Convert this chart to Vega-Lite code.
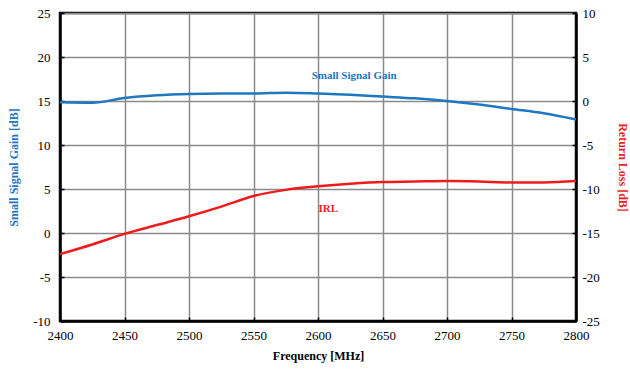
{
  "$schema": "https://vega.github.io/schema/vega-lite/v6.json",
  "width": 516,
  "height": 308,
  "autosize": {"type": "none"},
  "padding": {"left": 60, "top": 13, "right": 54, "bottom": 48},
  "background": "white",
  "config": {
    "view": {"stroke": "black", "strokeWidth": 2.5},
    "font": "Liberation Serif",
    "axis": {
      "labelFontSize": 13,
      "labelColor": "black",
      "titleFontSize": 12,
      "titleFontWeight": "bold",
      "gridColor": "#8a8a8a",
      "gridWidth": 1.5,
      "gridOpacity": 1,
      "domainColor": "black",
      "domainWidth": 2.5,
      "tickColor": "black",
      "tickSize": -4,
      "tickWidth": 1.5,
      "labelFlush": false
    }
  },
  "data": {
    "values": [
      {"f": 2400, "gain": 14.85, "irl": -17.4},
      {"f": 2425, "gain": 14.8, "irl": -16.3},
      {"f": 2450, "gain": 15.35, "irl": -15.1},
      {"f": 2475, "gain": 15.65, "irl": -14.1},
      {"f": 2500, "gain": 15.8, "irl": -13.1},
      {"f": 2525, "gain": 15.85, "irl": -12.0},
      {"f": 2550, "gain": 15.85, "irl": -10.8},
      {"f": 2575, "gain": 15.95, "irl": -10.1},
      {"f": 2600, "gain": 15.85, "irl": -9.7},
      {"f": 2625, "gain": 15.7, "irl": -9.4},
      {"f": 2650, "gain": 15.5, "irl": -9.2},
      {"f": 2675, "gain": 15.3, "irl": -9.15},
      {"f": 2700, "gain": 15.0, "irl": -9.1},
      {"f": 2725, "gain": 14.6, "irl": -9.15},
      {"f": 2750, "gain": 14.1, "irl": -9.25},
      {"f": 2775, "gain": 13.6, "irl": -9.25},
      {"f": 2800, "gain": 12.9, "irl": -9.1}
    ]
  },
  "encoding": {
    "x": {
      "field": "f",
      "type": "quantitative",
      "scale": {"domain": [2400, 2800], "nice": false},
      "axis": {"values": [2400, 2450, 2500, 2550, 2600, 2650, 2700, 2750, 2800], "labelFlush": false, "labelExpr": "'' + datum.value", "labelFont": "Liberation Serif", "titleFont": "Liberation Serif", "title": "Frequency [MHz]", "titleColor": "black", "labelPadding": 12, "titlePadding": 8}
    }
  },
  "layer": [
    {
      "layer": [
        {
          "mark": {"type": "line", "color": "#1f77c0", "strokeWidth": 2.5, "interpolate": "monotone"},
          "encoding": {
            "y": {
              "field": "gain",
              "type": "quantitative",
              "scale": {"domain": [-10, 25], "nice": false},
              "axis": {"values": [-10, -5, 0, 5, 10, 15, 20, 25], "labelExpr": "'' + datum.value", "labelFont": "Liberation Serif", "titleFont": "Liberation Serif", "title": "Small Signal Gain [dB]", "titleColor": "#1f77c0", "labelPadding": 14, "titlePadding": 12}
            }
          }
        },
        {
          "data": {"values": [{"f": 2628, "y": 17.8, "t": "Small Signal Gain"}]},
          "mark": {"type": "text", "color": "#1f77c0", "fontWeight": "bold", "fontSize": 11, "font": "Liberation Serif"},
          "encoding": {"y": {"field": "y", "type": "quantitative"}, "text": {"field": "t"}}
        }
      ]
    },
    {
      "layer": [
        {
          "mark": {"type": "line", "color": "#ee1c1c", "strokeWidth": 2.5, "interpolate": "monotone"},
          "encoding": {
            "y": {
              "field": "irl",
              "type": "quantitative",
              "scale": {"domain": [-25, 10], "nice": false},
              "axis": {"orient": "right", "values": [-25, -20, -15, -10, -5, 0, 5, 10], "labelExpr": "'' + datum.value", "labelFont": "Liberation Serif", "titleFont": "Liberation Serif", "grid": false, "title": "Return Loss [dB]", "titleColor": "#ee1c1c", "labelPadding": 10, "titlePadding": 16}
            }
          }
        },
        {
          "data": {"values": [{"f": 2608, "y": -12.3, "t": "IRL"}]},
          "mark": {"type": "text", "color": "#ee1c1c", "fontWeight": "bold", "fontSize": 11, "font": "Liberation Serif"},
          "encoding": {"y": {"field": "y", "type": "quantitative"}, "text": {"field": "t"}}
        }
      ]
    }
  ],
  "resolve": {"scale": {"y": "independent"}}
}
